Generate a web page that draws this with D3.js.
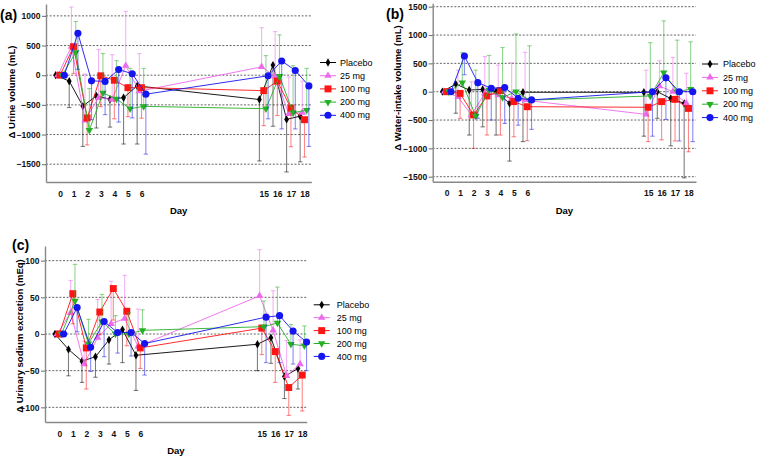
<!DOCTYPE html>
<html><head><meta charset="utf-8">
<script src="https://cdn.jsdelivr.net/npm/d3@7"></script>
<style>body{margin:0;background:#fff} svg{display:block} text{font-family:"Liberation Sans",Arial,sans-serif}</style>
</head><body><svg id="c" width="757" height="457"></svg>
<script>
const days = [0,1,2,3,4,5,6,15,16,17,18];
const seriesNames = ["Placebo","25 mg","100 mg","200 mg","400 mg"];
const seriesColors = ["#000000","#ec6aec","#ff1414","#26b026","#1515f0"];
const dayOffsets = [-0.32,-0.16,0,0.16,0.32];

const urineTicks = [1000,500,0,-500,-1000,-1500];
const waterTicks = [1500,1000,500,0,-500,-1000,-1500];
const sodiumTicks = [100,50,0,-50,-100];

// means per series (Placebo, 25, 100, 200, 400 mg)
const urineMeans = [
  [0,-100,-520,-350,-405,-380,-180,-410,170,-745,-690],
  [0,480,-760,-380,-410,160,-270,140,-20,-650,-630],
  [0,480,-720,-10,-85,-210,-210,-260,-100,-555,-750],
  [0,385,-925,-300,-400,-565,-525,-565,-15,-630,-590],
  [0,705,-95,-105,95,25,-320,-10,240,80,-180]
];
// error bar end values
const urineBars = [
  [0,-545,-1200,-890,-875,-1160,-1160,-1445,-860,-1630,-1460],
  [0,1150,20,435,345,1075,365,800,735,-30,-100],
  [0,30,-1175,-530,-735,-700,-725,-850,-680,-1205,-1380],
  [0,905,-225,365,245,115,115,330,680,160,115],
  [0,100,-750,-665,-790,-720,-1330,-735,-905,-905,-1200]
];
const waterMeans = [
  [0,135,30,40,0,-205,-10,-10,0,-120,-205],
  [0,-90,-410,-30,-60,-120,-150,-400,100,0,-205],
  [0,-30,-410,-75,20,-175,-265,-275,-175,-135,-295],
  [0,160,-430,30,-100,0,-150,-75,335,0,45],
  [0,630,160,60,75,-115,-145,0,245,0,0]
];
const waterBars = [
  [0,-380,-765,-620,-765,-1225,-880,-785,-470,-955,-1520],
  [0,380,175,620,470,510,695,380,545,605,325],
  [0,-470,-1000,-765,-765,-795,-865,-880,-850,-870,-1060],
  [0,690,380,640,780,1020,810,865,1250,910,880],
  [0,300,-470,-500,-560,-590,-665,-785,-490,-870,-880]
];
const sodiumMeans = [
  [0,-21,-37,-31,-8,6,-29,-14,-5,-58,-47],
  [0,29,-41,-5,14,21,-17,52,5,-57,-41],
  [0,55,-19,30,62,31,-19,8,-24,-73,-56],
  [0,45,-13,17,0,0,5,10,15,-14,-16],
  [0,36,-18,17,2,2,-13,23,25,4,-11]
];
const sodiumBars = [
  [0,-57,-66,-59,-41,-39,-77,-50,-40,-88,-75],
  [0,73,-10,47,72,80,34,115,59,-9,-8],
  [0,14,-75,-1,19,-16,-47,-28,-66,-111,-105],
  [0,95,20,54,25,29,33,45,64,13,11],
  [0,3,-51,-31,-26,-30,-56,-39,-39,-41,-50]
];

const svg = d3.select("#c");

function symbolPath(i){
  const types = [d3.symbolDiamond, d3.symbolTriangle, d3.symbolSquare, d3.symbolTriangle, d3.symbolCircle];
  const sizes = [20, 24, 48, 24, 40];
  return d3.symbol().type(types[i]).size(sizes[i])();
}
function drawMarker(g, i, x, y){
  const rot = i === 3 ? " rotate(180)" : "";
  g.append("path").attr("d", symbolPath(i))
    .attr("transform", `translate(${x},${y})${rot}`)
    .attr("fill", seriesColors[i]);
}

function panel(cfg){
  const g = svg.append("g");
  const x = d3.scaleLinear().domain(cfg.xDomain).range(cfg.xRange);
  const y = d3.scaleLinear().domain(cfg.yDomain).range(cfg.yRange);
  const x0 = cfg.xRange[0], x1 = cfg.xRange[1];

  // grid
  cfg.ticks.forEach(t => {
    g.append("line").attr("x1", x0).attr("x2", x1).attr("y1", y(t)).attr("y2", y(t))
      .attr("stroke", "#555").attr("stroke-width", 0.9).attr("stroke-dasharray", "2,1.6");
  });

  // y axis
  const ya = g.append("g").attr("transform", `translate(${x0},0)`)
    .call(d3.axisLeft(y).tickValues(cfg.ticks).tickSize(4).tickPadding(1.5).tickSizeOuter(0).tickFormat(d3.format("d")));
  ya.select(".domain").attr("stroke", "#888").attr("stroke-width", 1.4);
  ya.selectAll(".tick line").attr("stroke", "#777").attr("stroke-width", 1.1);
  ya.selectAll("text").attr("font-size", 8.5).attr("font-weight", "bold").attr("fill", "#111")
    .style("font-family", '"Liberation Sans",Arial,sans-serif');

  // x axis
  const xa = g.append("g").attr("transform", `translate(0,${cfg.yRange[0]})`)
    .call(d3.axisBottom(x).tickValues(days).tickSize(0).tickPadding(8.5).tickSizeOuter(0).tickFormat(d3.format("d")));
  xa.select(".domain").attr("stroke", "#888").attr("stroke-width", 1.4);
  xa.selectAll("text").attr("font-size", 8.5).attr("font-weight", "bold").attr("fill", "#111")
    .style("font-family", '"Liberation Sans",Arial,sans-serif');

  // series
  cfg.means.forEach((m, i) => {
    const col = seriesColors[i];
    const pts = days.map((d, k) => ({px: x(d + dayOffsets[i]), py: y(m[k]), pe: y(cfg.bars[i][k]), k}));
    const sg = g.append("g");
    // error bars
    pts.filter(p => p.k > 0).forEach(p => {
      sg.append("line").attr("x1", p.px).attr("x2", p.px).attr("y1", p.py).attr("y2", p.pe)
        .attr("stroke", col).attr("stroke-opacity", 0.5).attr("stroke-width", 1.1);
      sg.append("line").attr("x1", p.px - 2.2).attr("x2", p.px + 2.2).attr("y1", p.pe).attr("y2", p.pe)
        .attr("stroke", col).attr("stroke-opacity", 0.5).attr("stroke-width", 1.1);
    });
    // line
    sg.append("path").datum(pts)
      .attr("d", d3.line().x(p => p.px).y(p => p.py))
      .attr("fill", "none").attr("stroke", col).attr("stroke-width", 0.9);
    pts.forEach(p => drawMarker(sg, i, p.px, p.py));
  });

  // y title
  g.append("text").attr("transform", `translate(${cfg.titleX},${cfg.titleY}) rotate(-90)`)
    .attr("text-anchor", "middle").attr("font-size", 9.5).attr("font-weight", "bold").text(cfg.title);
  // x title
  g.append("text").attr("x", (x0 + x1) / 2).attr("y", cfg.dayY)
    .attr("text-anchor", "middle").attr("font-size", 9.5).attr("font-weight", "bold").text("Day");
  // panel label
  g.append("text").attr("x", cfg.labelX).attr("y", cfg.labelY)
    .attr("font-size", 14).attr("font-weight", "bold").text(cfg.label);

  // legend
  seriesNames.forEach((n, i) => {
    const ly = cfg.legY + i * cfg.legStep;
    g.append("line").attr("x1", cfg.legX - 8).attr("x2", cfg.legX + 8).attr("y1", ly).attr("y2", ly)
      .attr("stroke", seriesColors[i]).attr("stroke-width", 1);
    drawMarker(g, i, cfg.legX, ly);
    g.append("text").attr("x", cfg.legTextX).attr("y", ly).attr("dy", "0.35em")
      .attr("font-size", 9).text(n);
  });
}

panel({
  means: urineMeans, bars: urineBars, ticks: urineTicks,
  xDomain: [-1.03, 18.5], xRange: [46, 311.3],
  yDomain: [-1800, 1200], yRange: [182, 4],
  title: "\u0394 Urine volume (mL)", titleX: 15, titleY: 92,
  dayY: 213.5, label: "(a)", labelX: 0, labelY: 20,
  legX: 328, legTextX: 340, legY: 62.5, legStep: 13.2
});
panel({
  means: waterMeans, bars: waterBars, ticks: waterTicks,
  xDomain: [-1.04, 18.56], xRange: [432.7, 696],
  yDomain: [-1590, 1560], yRange: [181.8, 3.3],
  title: "\u0394 Water-intake volume (mL)", titleX: 401, titleY: 88,
  dayY: 214, label: "(b)", labelX: 386, labelY: 18.5,
  legX: 710, legTextX: 723, legY: 64, legStep: 13.4
});
panel({
  means: sodiumMeans, bars: sodiumBars, ticks: sodiumTicks,
  xDomain: [-1.06, 18.33], xRange: [45, 306.7],
  yDomain: [-120, 120], yRange: [422, 246],
  title: "\u0394 Urinary sodium excretion (mEq)", titleX: 22.5, titleY: 336,
  dayY: 454, label: "(c)", labelX: 12, labelY: 250,
  legX: 321.7, legTextX: 336.7, legY: 304.8, legStep: 12.9
});
</script></body></html>
